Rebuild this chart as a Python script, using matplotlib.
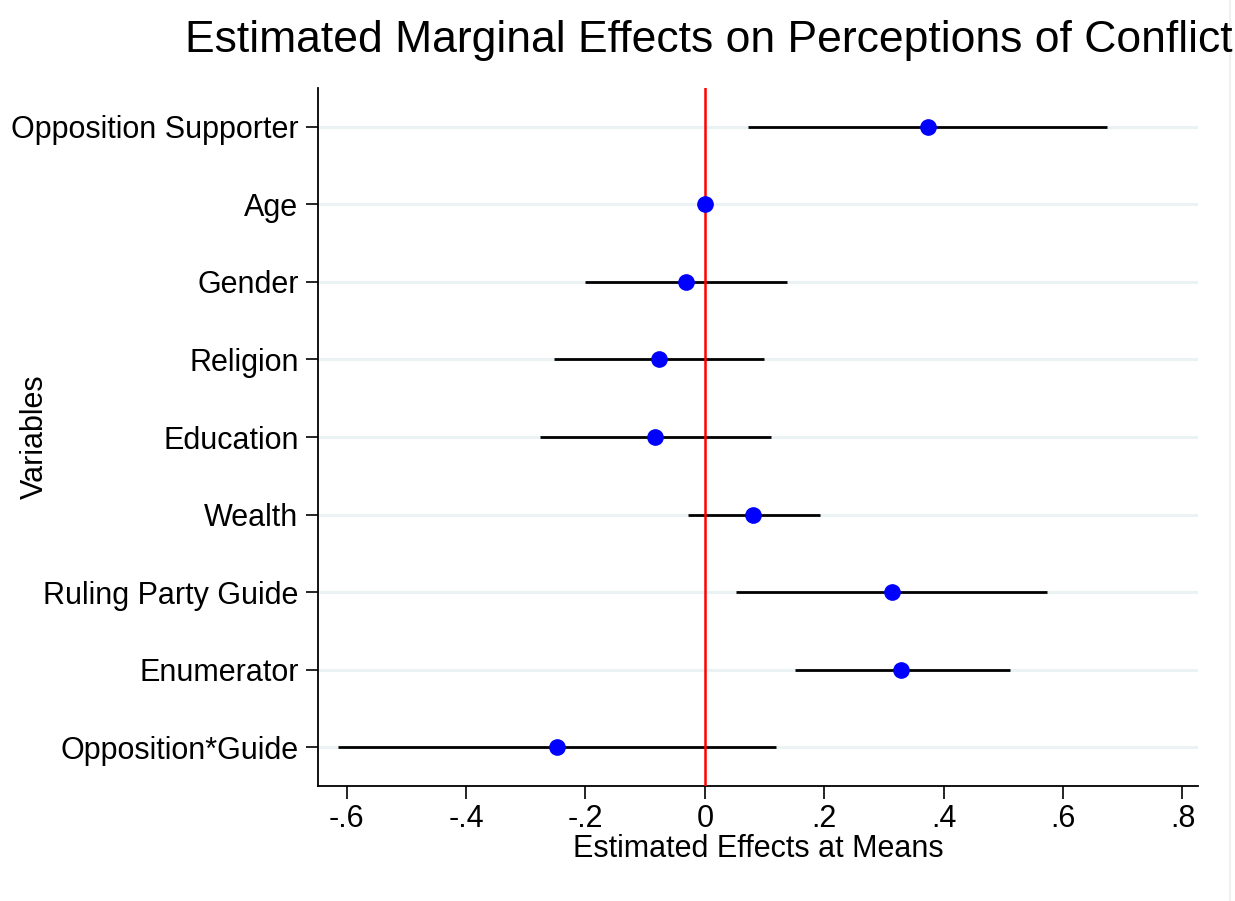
import matplotlib
matplotlib.use("Agg")
import matplotlib.pyplot as plt
from matplotlib.lines import Line2D

plt.rcParams['font.family'] = ['Liberation Sans', 'DejaVu Sans']

variables = ["Opposition Supporter", "Age", "Gender", "Religion", "Education",
             "Wealth", "Ruling Party Guide", "Enumerator", "Opposition*Guide"]
estimates = [0.374, 0.000, -0.032, -0.077, -0.084, 0.080, 0.313, 0.328, -0.248]
ci_low = [0.072, -0.002, -0.201, -0.253, -0.276, -0.028, 0.052, 0.151, -0.615]
ci_high = [0.673, 0.002, 0.137, 0.099, 0.111, 0.193, 0.573, 0.511, 0.119]
xticks = [-0.6, -0.4, -0.2, 0, 0.2, 0.4, 0.6, 0.8]
xticklabels = ["-.6", "-.4", "-.2", "0", ".2", ".4", ".6", ".8"]

fig = plt.figure(figsize=(12.35, 9.01), dpi=100)
ax = fig.add_axes([318/1235, 1-786/901, (1198-318)/1235, (786-88)/901])

ypos = list(range(len(variables)))
for y in ypos:
    ax.axhline(y, color='#EAF2F3', lw=2.2, zorder=0)

ax.hlines(ypos, ci_low, ci_high, color='black', lw=2.0, zorder=2)
ax.axvline(0, color='#FF0000', lw=1.8, zorder=3)
ax.plot(estimates, ypos, 'o', color='#0000FF', ms=11, zorder=4)

ax.set_ylim(8.5, -0.5)
ax.set_xlim(-0.648, 0.826)
ax.set_yticks(ypos)
ax.set_yticklabels(variables, fontsize=22)
ax.set_xticks(xticks)
ax.set_xticklabels(xticklabels, fontsize=22)
ax.tick_params(axis='both', direction='out', length=9, width=1.2, color='black')
ax.tick_params(axis='y', pad=5)
ax.tick_params(axis='x', pad=4)

for s in ['top', 'right']:
    ax.spines[s].set_visible(False)
for s in ['left', 'bottom']:
    ax.spines[s].set_linewidth(1.3)

ax.set_xlabel("Estimated Effects at Means", fontsize=22, labelpad=0)
ax.set_ylabel("Variables", fontsize=22)
ax.yaxis.set_label_coords((35 - 318) / 880, 0.5)
ax.yaxis.label.set_va('center')

fig.text(709/1235, 1-52/901, "Estimated Marginal Effects on Perceptions of Conflict",
         ha='center', va='baseline', fontsize=32)

fig.add_artist(Line2D([1230/1235, 1230/1235], [0, 1], color='#EEEEEE', lw=1.2,
                      transform=fig.transFigure))

fig.savefig("out.png", dpi=100, facecolor='white')
